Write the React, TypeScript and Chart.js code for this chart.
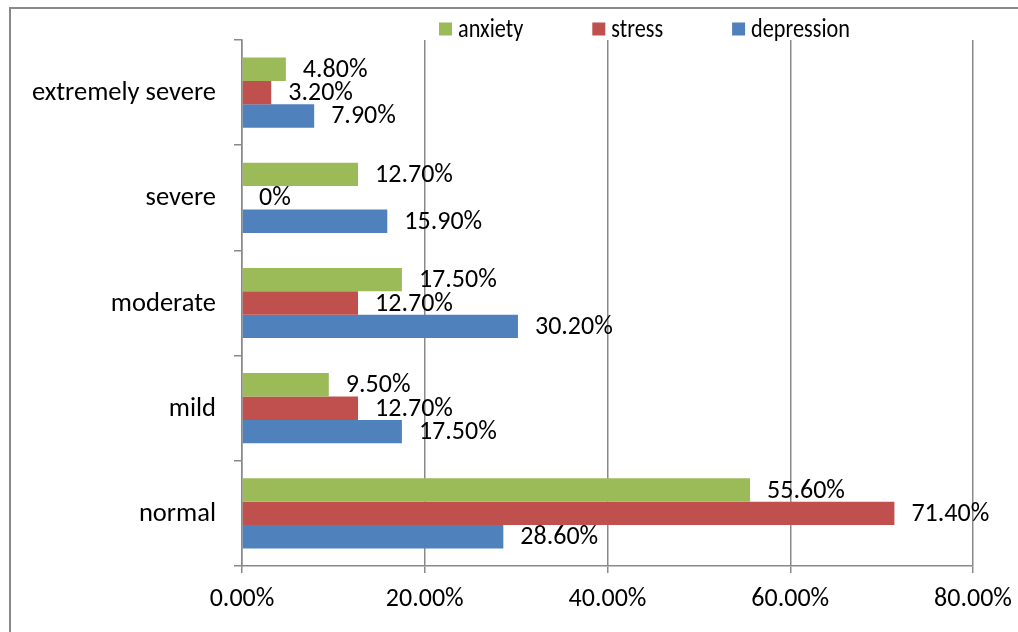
import { useEffect, useRef } from 'react';
import { Chart, registerables } from 'chart.js';

Chart.register(...registerables);

// Severity levels, listed top to bottom as they appear on the vertical axis
const categories = ['extremely severe', 'severe', 'moderate', 'mild', 'normal'];

// Share of respondents (%) per severity level
const anxiety = [4.8, 12.7, 17.5, 9.5, 55.6];
const stress = [3.2, 0, 12.7, 12.7, 71.4];
const depression = [7.9, 15.9, 30.2, 17.5, 28.6];

const seriesNames = ['anxiety', 'stress', 'depression'];
const seriesColors = ['#9BBB59', '#C0504D', '#4F81BD'];

// Horizontal axis ticks (%)
const xTicks = [0, 20, 40, 60, 80];

const FONT = 'Carlito, Lato';
const FONT_SIZE = 26;
const LEGEND_SQUEEZE = 0.855; // legend text is set slightly condensed
const AXIS_GRAY = '#898989';

const pct = (v: number) => (v === 0 ? '0%' : `${v.toFixed(2)}%`);

// Writes each bar's value just past its end
const valueLabels = {
  id: 'valueLabels',
  afterDatasetsDraw(chart: any) {
    const ctx = chart.ctx;
    ctx.save();
    ctx.font = `${FONT_SIZE}px ${FONT}`;
    ctx.fillStyle = '#000';
    ctx.textAlign = 'left';
    ctx.textBaseline = 'middle';
    chart.data.datasets.forEach((ds: any, i: number) => {
      const meta = chart.getDatasetMeta(i);
      meta.data.forEach((bar: any, j: number) => {
        ctx.fillText(pct(ds.data[j]), bar.x + 17, bar.y + 1);
      });
    });
    ctx.restore();
  },
};

// Legend row above the plot: square swatch followed by the series name
const topLegend = {
  id: 'topLegend',
  afterDraw(chart: any) {
    const ctx = chart.ctx;
    const area = chart.chartArea;
    ctx.save();
    ctx.font = `${FONT_SIZE}px ${FONT}`;
    ctx.textAlign = 'left';
    ctx.textBaseline = 'middle';
    let x = area.left + 197;
    const cy = area.top - 11;
    chart.data.datasets.forEach((ds: any) => {
      ctx.fillStyle = ds.backgroundColor;
      ctx.fillRect(x, cy - 6.5, 13, 13);
      ctx.fillStyle = '#000';
      ctx.save();
      ctx.translate(x + 19, cy + 1);
      ctx.scale(LEGEND_SQUEEZE, 1);
      ctx.fillText(ds.label, 0, 0);
      ctx.restore();
      x += 19 + ctx.measureText(ds.label).width * LEGEND_SQUEEZE + 69;
    });
    ctx.restore();
  },
};

export default function App() {
  const canvasRef = useRef<HTMLCanvasElement | null>(null);

  useEffect(() => {
    const canvas = canvasRef.current;
    if (!canvas) return;
    const seriesData = [anxiety, stress, depression];

    const chart = new Chart(canvas, {
      type: 'bar',
      data: {
        labels: categories,
        datasets: seriesNames.map((name, i) => ({
          label: name,
          data: seriesData[i],
          backgroundColor: seriesColors[i],
          borderWidth: 0,
          categoryPercentage: 0.667,
          barPercentage: 1,
        })),
      },
      options: {
        indexAxis: 'y',
        responsive: false,
        animation: false,
        devicePixelRatio: 1,
        layout: { autoPadding: false, padding: { left: 0, right: 45, top: 40, bottom: 0 } },
        plugins: {
          legend: { display: false },
          tooltip: { enabled: false },
        },
        scales: {
          x: {
            type: 'linear',
            min: 0,
            max: 80,
            afterBuildTicks: (s: any) => {
              s.ticks = xTicks.map((v) => ({ value: v }));
            },
            afterFit: (s: any) => {
              s.height = 66;
              s.paddingLeft = 0;
              s.paddingRight = 0;
            },
            ticks: {
              callback: (v: any) => `${Number(v).toFixed(2)}%`,
              color: '#000',
              font: { family: FONT, size: FONT_SIZE },
              padding: 11,
              maxRotation: 0,
            },
            grid: {
              color: AXIS_GRAY,
              lineWidth: 1.5,
              drawTicks: true,
              tickLength: 7,
            },
            border: { display: true, color: AXIS_GRAY, width: 1.5 },
          },
          y: {
            type: 'category',
            afterFit: (s: any) => {
              s.width = 242;
            },
            ticks: {
              color: '#000',
              font: { family: FONT, size: 26.5 },
              padding: 18,
              labelOffset: 1,
            },
            grid: {
              offset: true,
              drawOnChartArea: false,
              drawTicks: true,
              tickLength: 8,
              color: AXIS_GRAY,
              lineWidth: 1.5,
            },
            border: { display: true, color: AXIS_GRAY, width: 1.5 },
          },
        },
      },
      plugins: [valueLabels, topLegend],
    });

    return () => chart.destroy();
  }, []);

  return (
    <div>
      <div
        style={{
          position: 'fixed',
          left: 9,
          top: 7,
          width: 1030,
          height: 640,
          border: `2px solid ${AXIS_GRAY}`,
          boxSizing: 'border-box',
        }}
      />
      <canvas
        ref={canvasRef}
        width={1018}
        height={632}
        style={{ position: 'fixed', left: 0, top: 0, display: 'block' }}
      />
    </div>
  );
}
